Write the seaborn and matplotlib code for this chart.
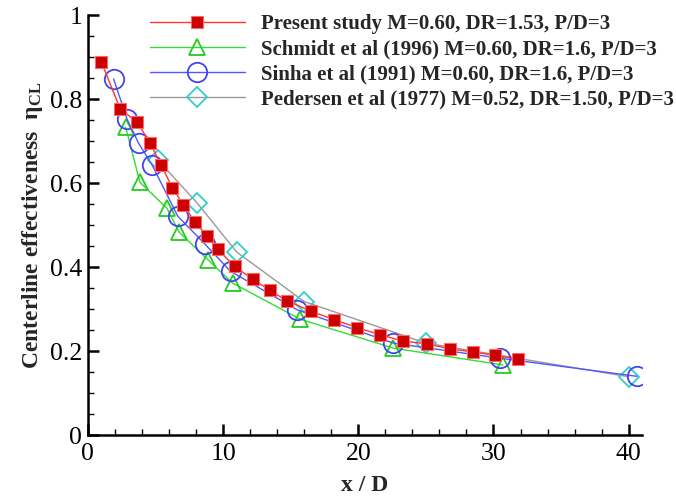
import numpy as np
import pandas as pd
import matplotlib
matplotlib.use("Agg")
import matplotlib.pyplot as plt
from matplotlib.ticker import MultipleLocator
import seaborn as sns

# ---- data ----
present_x = [1.0, 2.4, 3.65, 4.6, 5.4, 6.25, 7.05, 7.9, 8.8, 9.6, 10.85, 12.2, 13.45,
             14.7, 16.5, 18.2, 19.9, 21.6, 23.3, 25.1, 26.8, 28.5, 30.1, 31.8]
present_y = [0.888, 0.776, 0.745, 0.695, 0.644, 0.589, 0.549, 0.508, 0.475, 0.442, 0.402,
             0.371, 0.345, 0.320, 0.295, 0.275, 0.256, 0.239, 0.224, 0.217, 0.205, 0.198,
             0.190, 0.181]

schmidt_x = [2.8, 3.85, 5.85, 6.75, 8.9, 10.7, 15.7, 22.6, 30.7]
schmidt_y = [0.733, 0.602, 0.540, 0.483, 0.417, 0.362, 0.276, 0.207, 0.167]

sinha_x = [1.9, 2.9, 3.75, 4.75, 6.65, 8.65, 10.55, 15.5, 22.6, 30.5, 40.6]
sinha_y = [0.848, 0.752, 0.695, 0.643, 0.521, 0.455, 0.390, 0.298, 0.219, 0.183, 0.140]

pedersen_x = [5.15, 8.1, 11.0, 16.0, 25.0, 40.0]
pedersen_y = [0.656, 0.552, 0.436, 0.318, 0.219, 0.139]

labels = ["Present study M=0.60, DR=1.53, P/D=3",
          "Schmidt et al (1996) M=0.60, DR=1.6, P/D=3",
          "Sinha et al (1991) M=0.60, DR=1.6, P/D=3",
          "Pedersen et al (1977) M=0.52, DR=1.50, P/D=3"]

x_ticks = [0, 10, 20, 30, 40]
y_ticks = [0, 0.2, 0.4, 0.6, 0.8, 1.0]
y_ticklabels = ["0", "0.2", "0.4", "0.6", "0.8", "1"]

sns.set_theme(style="ticks")
plt.rcParams["font.family"] = ["Liberation Serif", "DejaVu Serif"]
plt.rcParams["mathtext.fontset"] = "stix"

fig = plt.figure(figsize=(6.76, 5.03), dpi=100)
ax = fig.add_axes([0.130, 0.135, 0.820, 0.835])

styles = [
    dict(color="#ff3333", marker="s", markersize=9, markerfacecolor="#cc0000",
         markeredgecolor="#ff6666", markeredgewidth=0.8, linewidth=1.0),
    dict(color="#33dd33", marker="^", markersize=11, markerfacecolor="none",
         markeredgecolor="#22cc22", markeredgewidth=1.3, linewidth=1.0),
    dict(color="#5555ff", marker="o", markersize=14, markerfacecolor="none",
         markeredgecolor="#4444ee", markeredgewidth=1.3, linewidth=1.0),
    dict(color="#999999", marker="D", markersize=10, markerfacecolor="none",
         markeredgecolor="#33cccc", markeredgewidth=1.3, linewidth=1.0),
]
series = [(present_x, present_y), (schmidt_x, schmidt_y), (sinha_x, sinha_y),
          (pedersen_x, pedersen_y)]
zorders = [5, 3, 4, 2]
for (xs, ys), lab, st, z in zip(series, labels, styles, zorders):
    df = pd.DataFrame({"x": xs, "y": ys})
    sns.lineplot(data=df, x="x", y="y", ax=ax, sort=False, label=lab, zorder=z,
                 estimator=None, **st)

ax.set_xlim(0, 41)
ax.set_ylim(0, 1)
ax.set_xticks(x_ticks)
ax.set_xticklabels([str(t) for t in x_ticks])
ax.set_yticks(y_ticks)
ax.set_yticklabels(y_ticklabels)
ax.xaxis.set_minor_locator(MultipleLocator(2))
ax.yaxis.set_minor_locator(MultipleLocator(0.05))
ax.tick_params(which="major", direction="in", length=8, width=1.8, labelsize=18.5,
               colors="black", pad=4)
ax.tick_params(axis="x", which="major", pad=6)
ax.tick_params(which="minor", direction="in", length=4, width=1.0, colors="black")
for s in ["top", "right"]:
    ax.spines[s].set_visible(False)
for s in ["left", "bottom"]:
    ax.spines[s].set_linewidth(1.8)
    ax.spines[s].set_color("black")

ax.set_xlabel("x / D", fontsize=17, fontweight="bold", labelpad=7)
ax.set_ylabel(r"Centerline effectiveness  $\mathregular{η_{CL}}$", fontsize=17,
              fontweight="bold", labelpad=4)

leg = ax.legend(loc="upper left", bbox_to_anchor=(150 / 676, 1 - 14 / 503),
                bbox_transform=fig.transFigure, frameon=False,
                prop={"family": "Liberation Serif", "weight": "bold", "size": 15},
                handlelength=4.55, handletextpad=0.8, labelspacing=0.25, borderpad=0,
                borderaxespad=0)

fig.savefig("out.png", dpi=100)
